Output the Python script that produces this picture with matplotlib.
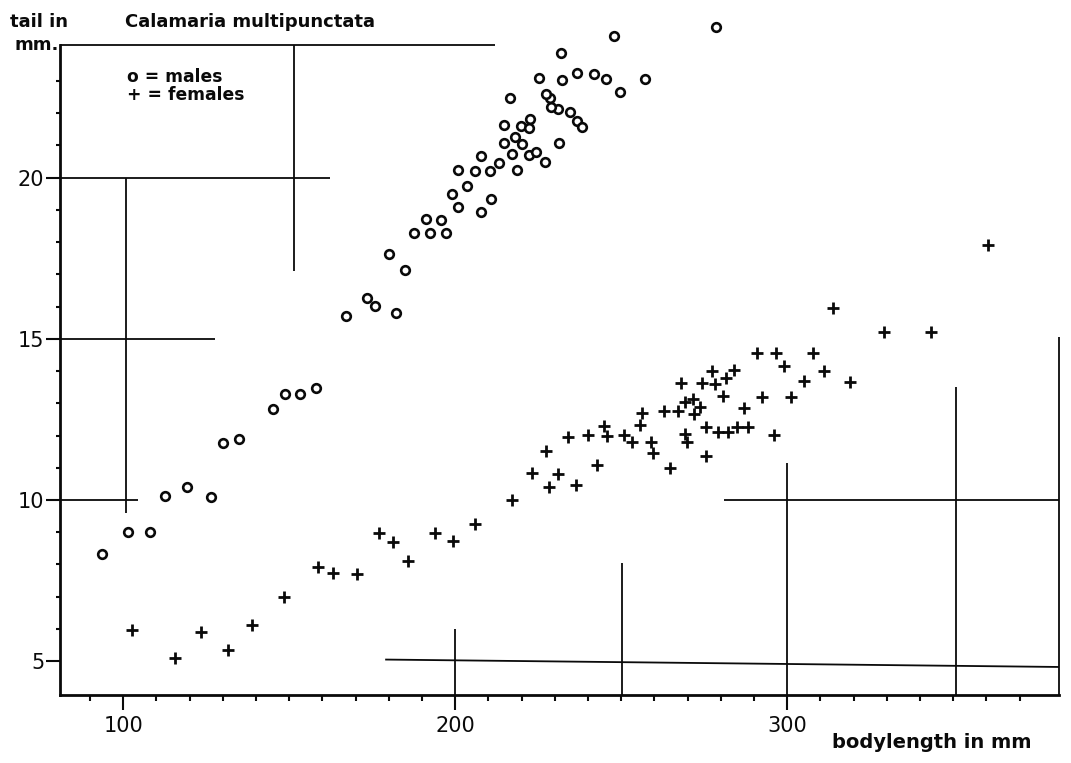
import matplotlib
matplotlib.use("Agg")
import matplotlib.pyplot as plt
import numpy as np

# ---------------- data ----------------
male_x = [93.7, 101.4, 108.0, 112.6, 119.2, 126.4, 129.9, 135.0, 145.1, 148.6,
          153.2, 158.0, 167.1, 173.4, 175.8, 182.1, 180.2, 184.9, 187.6, 191.1,
          192.4, 195.6, 197.1, 198.9, 200.7, 203.4, 207.8, 200.8, 206.0, 210.6,
          210.9, 207.9, 213.1, 217.2, 218.7, 222.2, 224.3, 227.0, 214.6, 220.1,
          231.2, 218.1, 214.7, 219.9, 222.4, 222.1, 236.7, 238.3, 234.5, 231.0,
          229.0, 228.7, 227.4, 216.5, 249.6, 225.2, 232.2, 236.6, 241.7, 245.3,
          257.1, 231.9, 247.8, 278.6]
male_y = [8.32, 9.02, 9.02, 10.13, 10.39, 10.08, 11.78, 11.89, 12.83, 13.28,
          13.30, 13.46, 15.72, 16.27, 16.02, 15.81, 17.64, 17.14, 18.27, 18.73,
          18.29, 18.70, 18.27, 19.48, 19.10, 19.75, 18.93, 20.24, 20.20, 20.21,
          19.35, 20.68, 20.45, 20.73, 20.23, 20.71, 20.78, 20.48, 21.09, 21.03,
          21.09, 21.27, 21.63, 21.60, 21.81, 21.53, 21.76, 21.58, 22.04, 22.14,
          22.20, 22.46, 22.58, 22.48, 22.65, 23.10, 23.04, 23.24, 23.22, 23.06,
          23.06, 23.87, 24.40, 24.67]

female_x = [102.6, 115.5, 123.5, 131.5, 138.9, 148.5, 158.6, 163.1, 170.5, 177.1,
            181.4, 185.8, 194.0, 199.3, 206.0, 217.1, 223.0, 228.2, 230.9, 227.4,
            236.5, 233.9, 239.9, 242.6, 244.7, 245.8, 250.9, 253.3, 255.7, 256.4,
            258.9, 259.7, 264.6, 263.0, 267.1, 268.0, 269.1, 269.2, 269.9, 271.5,
            271.8, 273.8, 274.2, 275.5, 275.7, 277.5, 278.4, 279.1, 280.6, 281.7,
            282.1, 284.1, 284.9, 286.9, 288.2, 290.8, 292.4, 296.0, 296.6, 299.2,
            301.1, 305.1, 307.9, 311.2, 313.7, 318.8, 329.1, 343.4, 360.6]
female_y = [5.97, 5.09, 5.91, 5.36, 6.13, 6.99, 7.91, 7.73, 7.70, 8.97,
            8.71, 8.11, 8.98, 8.72, 9.26, 10.01, 10.83, 10.41, 10.81, 11.53,
            10.48, 11.94, 12.02, 11.08, 12.31, 11.98, 12.02, 11.79, 12.32, 12.71,
            11.79, 11.45, 10.98, 12.77, 12.77, 13.62, 13.05, 12.04, 11.80, 13.13,
            12.66, 12.87, 13.64, 11.37, 12.27, 13.99, 13.61, 12.12, 13.23, 13.77,
            12.12, 14.02, 12.27, 12.84, 12.27, 14.56, 13.20, 12.02, 14.56, 14.16,
            13.20, 13.70, 14.56, 14.00, 15.95, 13.67, 15.21, 15.21, 17.90]

x_major = [100, 200, 300]
x_major_labels = ["100", "200", "300"]
x_minor = [90, 110, 120, 130, 140, 150, 160, 170, 180, 190, 210, 220, 230, 240,
           250, 260, 270, 280, 290, 310, 320, 330, 340, 350, 360, 370]
y_major = [5, 10, 15, 20]
y_major_labels = ["5", "10", "15", "20"]
y_minor = [6, 7, 8, 9, 11, 12, 13, 14, 16, 17, 18, 19, 21, 22, 23]

# construction lines of the original drawing (data coordinates)
guide_h = [(24.1, 24.1, 80.8, 212.0),
           (20.0, 20.0, 80.8, 162.3),
           (15.0, 15.0, 80.8, 127.5),
           (10.0, 10.0, 80.8, 104.5),
           (10.0, 10.0, 280.9, 381.9),
           (5.05, 4.82, 178.9, 381.9)]
guide_v = [(151.3, 17.1, 24.1),
           (100.8, 9.6, 20.0),
           (199.8, 6.0, 3.95),
           (250.3, 8.04, 3.95),
           (300.1, 11.14, 3.95),
           (351.0, 13.52, 3.95),
           (381.9, 15.06, 3.95)]

XLIM = (80.8, 381.9)
YLIM = (3.95, 24.9)

# ---------------- figure ----------------
plt.rcParams['font.family'] = ['DejaVu Sans']
fig = plt.figure(figsize=(10.71, 7.63), dpi=100)
fig.patch.set_facecolor("white")
ax = fig.add_axes([0.0556, 0.0891, 0.9888 - 0.0556, 0.9742 - 0.0891])
ax.set_xlim(*XLIM)
ax.set_ylim(*YLIM)

ink = "#0a0a0a"

for y0, y1, x0, x1 in guide_h:
    ax.plot([x0, x1], [y0, y1], color=ink, lw=1.3, solid_capstyle="butt", clip_on=False)
for x, y0, y1 in guide_v:
    ax.plot([x, x], [y0, y1], color=ink, lw=1.3, solid_capstyle="butt", clip_on=False)

ax.plot(male_x, male_y, linestyle="none", marker="o", markersize=6.2,
        markerfacecolor="white", markeredgecolor=ink, markeredgewidth=1.9, clip_on=False)
ax.plot(female_x, female_y, linestyle="none", marker="+", markersize=8,
        markeredgecolor=ink, markeredgewidth=2.0, clip_on=False)

# spines
ax.spines["top"].set_visible(False)
ax.spines["right"].set_visible(False)
ax.spines["left"].set_bounds(YLIM[0], 24.1)
for s in ("left", "bottom"):
    ax.spines[s].set_linewidth(2.0)
    ax.spines[s].set_color(ink)

# ticks
ax.set_xticks(x_major)
ax.set_xticklabels(x_major_labels)
ax.set_xticks(x_minor, minor=True)
ax.set_yticks(y_major)
ax.set_yticklabels(y_major_labels)
ax.set_yticks(y_minor, minor=True)
ax.tick_params(axis="x", which="major", direction="out", length=11, width=1.5,
               pad=4, labelsize=15, colors=ink)
ax.tick_params(axis="x", which="minor", direction="out", length=4.5, width=1.5, colors=ink)
ax.tick_params(axis="y", which="major", direction="out", length=10, width=1.5,
               pad=1, labelsize=15, colors=ink)
ax.tick_params(axis="y", which="minor", direction="out", length=3, width=1.5, colors=ink)

# texts
W, H = 1071.0, 763.0
def ftext(px, py, s, **kw):
    fig.text(px / W, 1 - py / H, s, va="baseline", ha="left", color=ink, **kw)

ftext(10, 27, "tail in", fontsize=13, fontweight="bold")
ftext(14, 50, "mm.", fontsize=13, fontweight="bold")
ftext(125, 27, "Calamaria multipunctata", fontsize=13, fontweight="bold")
ftext(127, 82, "o = males", fontsize=12.3, fontweight="bold")
ftext(127, 100, "+ = females", fontsize=12.3, fontweight="bold")
ftext(832, 748, "bodylength in mm", fontsize=14, fontweight="bold")

fig.savefig("out.png", dpi=100, facecolor="white")
